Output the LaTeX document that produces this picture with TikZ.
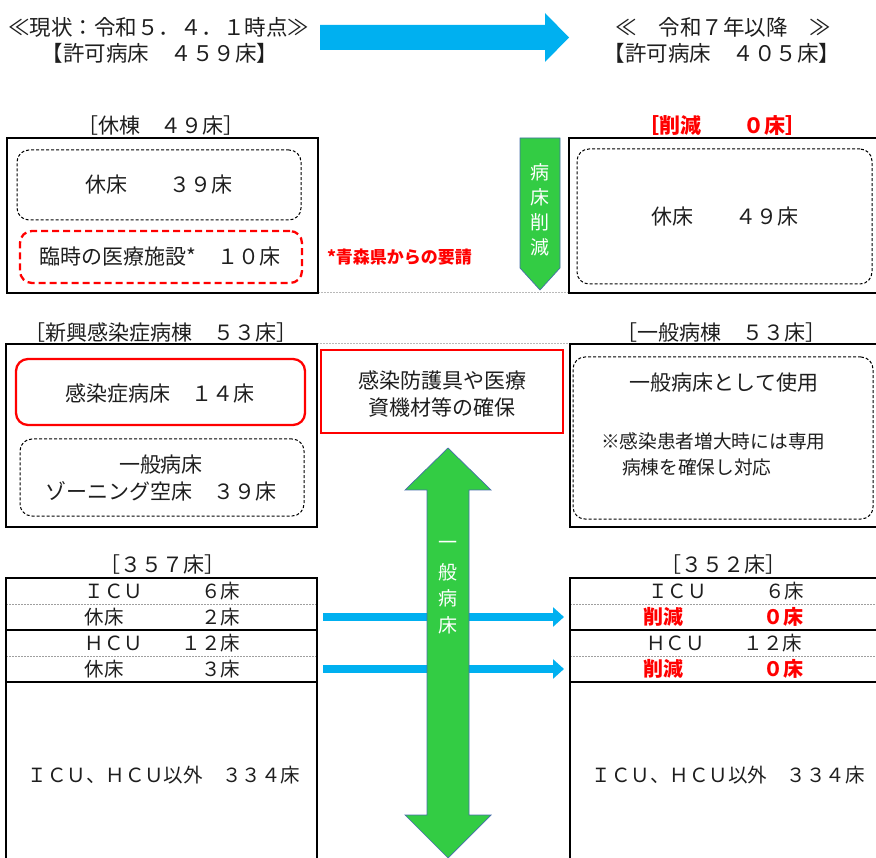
\documentclass[tikz,border=0pt]{standalone}
\usepackage{fontspec}
\setmainfont{Noto Sans CJK JP}
\usetikzlibrary{calc,arrows.meta}
\definecolor{txtc}{RGB}{30,30,30}
\definecolor{arrblue}{RGB}{0,176,240}
\definecolor{arrgreen}{RGB}{51,204,68}
\definecolor{arredge}{RGB}{70,110,170}
\definecolor{redc}{RGB}{255,0,0}
\begin{document}
\begin{tikzpicture}[x=1pt,y=-1pt,
  every node/.style={inner sep=0pt, outer sep=0pt},
  t/.style={font=\fontsize{21}{27}\selectfont, text=txtc, align=center},
  th/.style={font=\fontsize{21.5}{27}\selectfont, text=txtc, align=center},
  ts/.style={font=\fontsize{18.7}{26}\selectfont, text=txtc},
  tr/.style={font=\fontsize{19.5}{24}\selectfont, text=txtc},
  rb/.style={font=\bfseries\fontsize{20}{24}\selectfont, text=redc},
  rbl/.style={font=\bfseries\fontsize{21}{24}\selectfont, text=redc},
  gt/.style={font=\fontsize{19}{22}\selectfont, text=white},
  frame/.style={draw=black, line width=1.8pt},
  dashbox/.style={draw=black, line width=1pt, dash pattern=on 3pt off 2pt, rounded corners=12pt},
  reddash/.style={draw=redc, line width=2.3pt, dash pattern=on 7pt off 4pt, rounded corners=12pt},
  redsolid/.style={draw=redc, line width=2.3pt, rounded corners=12pt},
  redrect/.style={draw=redc, line width=2.6pt},
  sepline/.style={draw=gray!55, line width=1pt, dash pattern=on 2pt off 1pt},
  rowdash/.style={draw=gray!75, line width=0.9pt, dash pattern=on 2pt off 1pt},
  rowsolid/.style={draw=black, line width=1.5pt},
  row/.style={minimum width=311pt, minimum height=26pt},
  rowr/.style={minimum width=310pt, minimum height=26pt},
  bluearrow/.style={draw=arrblue, line width=8pt, -{Triangle[length=11pt,width=19pt]}},
  greenshape/.style={fill=arrgreen, draw=arredge, line width=0.7pt}
]
\useasboundingbox (0,0) rectangle (876,858);

% ---------- header ----------
\node[th] (h1) at (159,27) {≪現状：令和５．４．１時点≫};
\node[th] (h2) at (160,53) {【許可病床　４５９床】};
\node[th] (h3) at (723,27) {≪　令和７年以降　≫};
\node[th] (h4) at (722,53) {【許可病床　４０５床】};
\fill[arrblue] (320,25) -- (545,25) -- (545,13) -- (569,37.5) -- (545,62) -- (545,50) -- (320,50) -- cycle;

% ---------- top section ----------
\node[t] (lab1) at (161,126) {［休棟　４９床］};
\node[rbl] (lab1r) at (722,126) {［削減　　０床］};
\draw[sepline] (318,293) -- (569,293);
\node[frame, minimum width=311pt, minimum height=155pt] (B1) at (162.5,215.5) {};
\node[dashbox, minimum width=284pt, minimum height=70pt] (B1a) at (159,185) {};
\node[t] (B1at) at (B1a) {休床　　３９床};
\node[reddash, minimum width=282pt, minimum height=52pt] (B1b) at (161,257) {};
\node[t] (B1bt) at (160,257) {臨時の医療施設*　１０床};
\node[font=\bfseries\fontsize{17}{20}\selectfont, text=redc, anchor=west] (note) at (327,257) {*青森県からの要請};

\node[frame, minimum width=311pt, minimum height=155pt] (R1) at (724.5,215.5) {};
\node[dashbox, minimum width=295pt, minimum height=135pt] (R1a) at (724.5,216.5) {};
\node[t] (R1at) at (725,217) {休床　　４９床};

\draw[greenshape] (520,138) -- (560,138) -- (560,268) -- (540,290) -- (520,268) -- cycle;
\node[gt] (g1) at (540,172) {病};
\node[gt] (g2) at (540,197) {床};
\node[gt] (g3) at (540,222) {削};
\node[gt] (g4) at (540,247) {減};

% ---------- middle section ----------
\node[t] (lab2) at (161,333) {［新興感染症病棟　５３床］};
\node[t] (lab2r) at (721,333) {［一般病棟　５３床］};
\draw[sepline] (317,344) -- (570,344);
\node[frame, minimum width=311pt, minimum height=183pt] (B2) at (161.5,435.5) {};
\node[redsolid, minimum width=289pt, minimum height=66pt] (B2a) at (160.5,392) {};
\node[t] (B2at) at (160,393) {感染症病床　１４床};
\node[dashbox, minimum width=284pt, minimum height=77pt] (B2b) at (162,477.5) {};
\node[t] (B2bt) at (161,478.5) {一般病床\\ゾーニング空床　３９床};

\node[redrect, minimum width=242pt, minimum height=83pt] (M) at (442,391.5) {};
\node[t] (Mt) at (442,393.5) {感染防護具や医療\\資機材等の確保};

\node[frame, minimum width=310pt, minimum height=183pt] (R2) at (725,435.5) {};
\node[dashbox, minimum width=300pt, minimum height=162pt] (R2a) at (723,438) {};
\node[t] (R2t1) at (724,383) {一般病床として使用};
\node[ts, anchor=west] (R2t2) at (601,441) {※感染患者増大時には専用};
\node[ts, anchor=west] (R2t3) at (622,467) {病棟を確保し対応};

% ---------- bottom tables ----------
\node[t] (lab3) at (162,565) {［３５７床］};
\node[t] (lab3r) at (723,565) {［３５２床］};

\node[row] (L1) at (161.5,591) {};
\node[row] (L2) at (161.5,617) {};
\node[row] (L3) at (161.5,643) {};
\node[row] (L4) at (161.5,669) {};
\node[minimum width=311pt, minimum height=190pt] (L5) at (161.5,777) {};
\node[tr] (L1t) at (162.5,591) {ＩＣＵ　　　６床};
\node[tr] (L2t) at (162.5,617) {休床　　　　２床};
\node[tr] (L3t) at (162.5,643) {ＨＣＵ　　１２床};
\node[tr] (L4t) at (162.5,669) {休床　　　　３床};
\node[tr] (L5t) at (164,775) {ＩＣＵ、ＨＣＵ以外　３３４床};
\draw[rowdash] (L1.south west) -- (L1.south east);
\draw[rowsolid] (L2.south west) -- (L2.south east);
\draw[rowdash] (L3.south west) -- (L3.south east);
\draw[rowsolid] (L4.south west) -- (L4.south east);
\draw[frame] (L1.north west) rectangle (L5.south east);

\node[rowr] (Q1) at (725,591) {};
\node[rowr] (Q2) at (725,617) {};
\node[rowr] (Q3) at (725,643) {};
\node[rowr] (Q4) at (725,669) {};
\node[minimum width=310pt, minimum height=190pt] (Q5) at (725,777) {};
\node[tr] (Q1t) at (726,591) {ＩＣＵ　　　６床};
\node[rb] (Q2t) at (723,617) {削減　　　　０床};
\node[tr] (Q3t) at (724,643) {ＨＣＵ　　１２床};
\node[rb] (Q4t) at (723,669) {削減　　　　０床};
\node[tr] (Q5t) at (728,775) {ＩＣＵ、ＨＣＵ以外　３３４床};
\draw[rowdash] (Q1.south west) -- (Q1.south east);
\draw[rowsolid] (Q2.south west) -- (Q2.south east);
\draw[rowdash] (Q3.south west) -- (Q3.south east);
\draw[rowsolid] (Q4.south west) -- (Q4.south east);
\draw[frame] (Q1.north west) rectangle (Q5.south east);

% blue arrows between the tables
\draw[bluearrow] ($(L2.east)+(6,0)$) -- ($(Q2.west)+(-6,0)$);
\draw[bluearrow] ($(L4.east)+(6,0)$) -- ($(Q4.west)+(-6,0)$);

% green double arrow
\draw[greenshape] (448,448) -- (491,490) -- (469,490) -- (469,815) -- (491,815) -- (448,858)
  -- (405,815) -- (427,815) -- (427,490) -- (405,490) -- cycle;
\node[gt] (d1) at (448,545) {一};
\node[gt] (d2) at (448,572) {般};
\node[gt] (d3) at (448,598) {病};
\node[gt] (d4) at (448,625) {床};
\end{tikzpicture}
\end{document}
